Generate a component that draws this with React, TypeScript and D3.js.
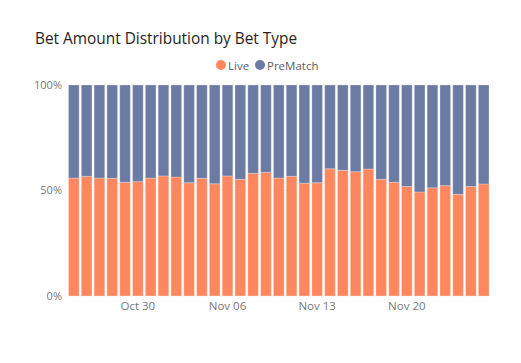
import React from 'react';
import * as d3 from 'd3';

// daily dates, Oct 25 .. Nov 26
const startDate = new Date(2023, 9, 25);
const dayCount = 33;
const dates = d3.range(dayCount).map(i => d3.timeDay.offset(startDate, i));

// Live share of bet amount per day (PreMatch is the rest)
const liveShare = [
  0.559, 0.567, 0.559, 0.558, 0.539, 0.542, 0.559, 0.569, 0.564, 0.537, 0.558,
  0.532, 0.569, 0.553, 0.581, 0.586, 0.559, 0.567, 0.535, 0.537, 0.603, 0.596,
  0.589, 0.602, 0.553, 0.539, 0.519, 0.493, 0.513, 0.523, 0.482, 0.519, 0.531,
];
const preMatchShare = liveShare.map(v => 1 - v);

const seriesNames = ['Live', 'PreMatch'];
const seriesColors = ['#FF8760', '#6B7BA4'];
const yTicks = [0, 0.5, 1];
const xTickLabels = ['Oct 30', 'Nov 06', 'Nov 13', 'Nov 20'];

const width = 521;
const height = 363;
const margin = { top: 85, right: 32, bottom: 67, left: 68.5 };
const font = "'Segoe UI', 'Open Sans', sans-serif";

export default function App() {
  const fmt = d3.timeFormat('%b %d');
  const keys = dates.map(d => fmt(d));

  const x = d3.scaleBand<string>()
    .domain(keys)
    .range([margin.left, width - margin.right])
    .paddingInner(0.17)
    .paddingOuter(0);

  const y = d3.scaleLinear()
    .domain([0, 1])
    .range([height - margin.bottom, margin.top]);

  const rows = keys.map((k, i) => ({ key: k, Live: liveShare[i], PreMatch: preMatchShare[i] }));
  const stacked = d3.stack<any>().keys(seriesNames)(rows);

  return (
    <svg width={width} height={height} style={{ position: 'absolute', left: 0, top: 0, background: '#fff' }}>
      <text x={35} y={44} fontFamily={font} fontSize={15.4} fill="#252423">
        Bet Amount Distribution by Bet Type
      </text>

      {/* legend */}
      <g fontFamily={font} fontSize={11.5} fill="#605E5C">
        <circle cx={221} cy={65} r={5} fill={seriesColors[0]} />
        <text x={228} y={69.5}>{seriesNames[0]}</text>
        <circle cx={260} cy={65} r={5} fill={seriesColors[1]} />
        <text x={267} y={69.5}>{seriesNames[1]}</text>
      </g>

      {/* gridlines */}
      {yTicks.map(t => (
        <line key={t} x1={margin.left} x2={width - margin.right} y1={y(t)} y2={y(t)}
          stroke="#e3e3e3" strokeDasharray="1,2" />
      ))}

      {/* bars */}
      {stacked.map((s, si) => (
        <g key={s.key} fill={seriesColors[si]}>
          {s.map((d: any) => (
            <rect key={d.data.key}
              x={x(d.data.key)} width={x.bandwidth()}
              y={y(d[1])} height={y(d[0]) - y(d[1])}
              stroke="rgba(255,255,255,0.25)" strokeWidth={1} />
          ))}
        </g>
      ))}

      {/* y axis labels */}
      <g fontFamily={font} fontSize={11} fill="#777">
        {yTicks.map(t => (
          <text key={t} x={62} y={y(t)} dy="0.35em" textAnchor="end">{d3.format('.0%')(t)}</text>
        ))}
      </g>

      {/* x axis labels */}
      <g fontFamily={font} fontSize={11.5} fill="#777">
        {xTickLabels.map(l => (
          <text key={l} x={(x(l) ?? 0) + x.bandwidth() / 2} y={310} textAnchor="middle">{l}</text>
        ))}
      </g>
    </svg>
  );
}
